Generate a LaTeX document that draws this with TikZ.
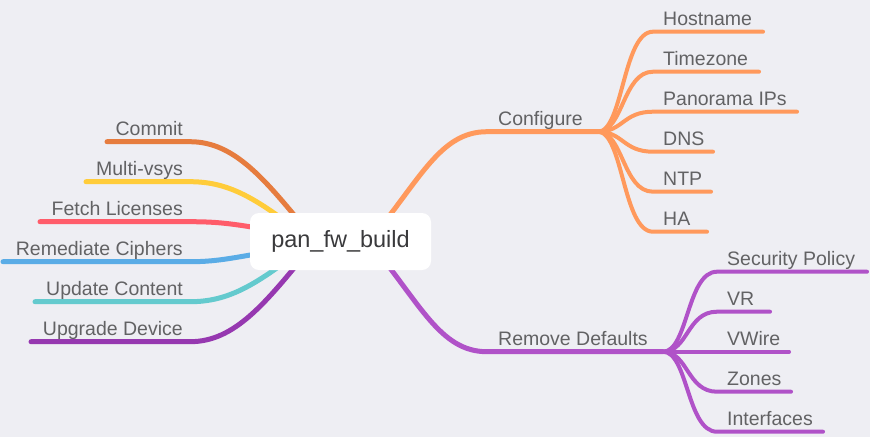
\documentclass[tikz,border=0pt]{standalone}
\usepackage{fontspec}
\setmainfont{Liberation Sans}
\usetikzlibrary{calc,positioning}
\definecolor{bg}{RGB}{238,238,243}
\definecolor{txt}{RGB}{98,98,100}
\definecolor{rtxt}{RGB}{58,58,60}
\definecolor{cfgc}{RGB}{255,153,92}
\definecolor{rmvc}{RGB}{176,82,200}
\definecolor{commitc}{RGB}{230,124,62}
\definecolor{vsysc}{RGB}{255,204,58}
\definecolor{licc}{RGB}{255,92,106}
\definecolor{ciphc}{RGB}{90,172,230}
\definecolor{contc}{RGB}{100,202,206}
\definecolor{upgc}{RGB}{150,56,176}
\begin{document}
\begin{tikzpicture}[x=1pt,y=-1pt,line cap=round,
		lbl/.style={inner sep=0pt,text=txt,font=\fontsize{19.5}{20}\selectfont},
		main/.style={line width=5pt},
		sub/.style={line width=4pt},
		rootbox/.style={fill=white,rounded corners=9pt,minimum width=181pt,minimum height=57pt,text=rtxt,font=\fontsize{23.5}{24}\selectfont}]
		\fill[bg] (0,0) rectangle (870,437);
		\coordinate (root) at (340.5,241.5);
		\path
			(107,141.7) coordinate (commit-s) (190,141.7) coordinate (commit-e)
			(86,181.7) coordinate (vsys-s) (190,181.7) coordinate (vsys-e)
			(40,221.7) coordinate (lic-s) (190,221.7) coordinate (lic-e)
			(3,261.7) coordinate (ciph-s) (190,261.7) coordinate (ciph-e)
			(35,301.7) coordinate (cont-s) (190,301.7) coordinate (cont-e)
			(31,341.7) coordinate (upg-s) (190,341.7) coordinate (upg-e)
			(487,131.7) coordinate (cfg-s) (598,131.7) coordinate (cfg-e)
			(487,351.7) coordinate (rmv-s) (663,351.7) coordinate (rmv-e)
			(653,31.7) coordinate (host-s) (763,31.7) coordinate (host-e)
			(653,71.7) coordinate (tz-s) (759,71.7) coordinate (tz-e)
			(653,111.7) coordinate (pano-s) (797,111.7) coordinate (pano-e)
			(653,151.7) coordinate (dns-s) (713,151.7) coordinate (dns-e)
			(653,191.7) coordinate (ntp-s) (711,191.7) coordinate (ntp-e)
			(653,231.7) coordinate (ha-s) (707,231.7) coordinate (ha-e)
			(717,271.7) coordinate (secpol-s) (867,271.7) coordinate (secpol-e)
			(717,311.7) coordinate (vr-s) (770,311.7) coordinate (vr-e)
			(717,351.7) coordinate (vwire-s) (789,351.7) coordinate (vwire-e)
			(717,391.7) coordinate (zones-s) (791,391.7) coordinate (zones-e)
			(717,431.7) coordinate (intf-s) (823,431.7) coordinate (intf-e)
			;
		\draw[main,commitc] (commit-s) -- (commit-e) .. controls +(45,0) and +(-45,-55) .. ($(root)+(-30,-6.5)$);
		\draw[main,vsysc] (vsys-s) -- (vsys-e) .. controls +(35,0) and +(-40,-30) .. ($(root)+(-50,-16.5)$);
		\draw[main,licc] (lic-s) -- (lic-e) .. controls +(30,0) and +(-45,-8) .. ($(root)+(-60,-9.5)$);
		\draw[main,ciphc] (ciph-s) -- (ciph-e) .. controls +(30,0) and +(-45,7) .. ($(root)+(-60,8.5)$);
		\draw[main,contc] (cont-s) -- (cont-e) .. controls +(35,0) and +(-40,30) .. ($(root)+(-50,16.5)$);
		\draw[main,upgc] (upg-s) -- (upg-e) .. controls +(45,0) and +(-45,55) .. ($(root)+(-30,6.5)$);
		\draw[main,cfgc] ($(root)+(30,-2)$) .. controls +(50,-60) and +(-47,0) .. (cfg-s) -- (cfg-e);
		\draw[main,rmvc] ($(root)+(30,2)$) .. controls +(50,60) and +(-47,0) .. (rmv-s) -- (rmv-e);
		\draw[sub,cfgc] (cfg-e) .. controls +(25,0) and +(-30,0) .. (host-s) -- (host-e);
		\draw[sub,cfgc] (cfg-e) .. controls +(25,0) and +(-30,0) .. (tz-s) -- (tz-e);
		\draw[sub,cfgc] (cfg-e) .. controls +(25,0) and +(-30,0) .. (pano-s) -- (pano-e);
		\draw[sub,cfgc] (cfg-e) .. controls +(25,0) and +(-30,0) .. (dns-s) -- (dns-e);
		\draw[sub,cfgc] (cfg-e) .. controls +(25,0) and +(-30,0) .. (ntp-s) -- (ntp-e);
		\draw[sub,cfgc] (cfg-e) .. controls +(25,0) and +(-30,0) .. (ha-s) -- (ha-e);
		\draw[sub,rmvc] (rmv-e) .. controls +(25,0) and +(-30,0) .. (secpol-s) -- (secpol-e);
		\draw[sub,rmvc] (rmv-e) .. controls +(25,0) and +(-30,0) .. (vr-s) -- (vr-e);
		\draw[sub,rmvc] (rmv-e) -- (vwire-s) -- (vwire-e);
		\draw[sub,rmvc] (rmv-e) .. controls +(25,0) and +(-30,0) .. (zones-s) -- (zones-e);
		\draw[sub,rmvc] (rmv-e) .. controls +(25,0) and +(-30,0) .. (intf-s) -- (intf-e);
		\node[lbl,anchor=base east] (commit) at ([shift={(-7,-6.7)}]commit-e) {Commit};
		\node[lbl,anchor=base east] (vsys) at ([shift={(-7,-6.7)}]vsys-e) {Multi-vsys};
		\node[lbl,anchor=base east] (lic) at ([shift={(-7,-6.7)}]lic-e) {Fetch Licenses};
		\node[lbl,anchor=base east] (ciph) at ([shift={(-7,-6.7)}]ciph-e) {Remediate Ciphers};
		\node[lbl,anchor=base east] (cont) at ([shift={(-7,-6.7)}]cont-e) {Update Content};
		\node[lbl,anchor=base east] (upg) at ([shift={(-7,-6.7)}]upg-e) {Upgrade Device};
		\node[lbl,anchor=base west] (cfg) at ([shift={(11,-6.7)}]cfg-s) {Configure};
		\node[lbl,anchor=base west] (rmv) at ([shift={(11,-6.7)}]rmv-s) {Remove Defaults};
		\node[lbl,anchor=base west] (host) at ([shift={(10,-6.7)}]host-s) {Hostname};
		\node[lbl,anchor=base west] (tz) at ([shift={(10,-6.7)}]tz-s) {Timezone};
		\node[lbl,anchor=base west] (pano) at ([shift={(10,-6.7)}]pano-s) {Panorama IPs};
		\node[lbl,anchor=base west] (dns) at ([shift={(10,-6.7)}]dns-s) {DNS};
		\node[lbl,anchor=base west] (ntp) at ([shift={(10,-6.7)}]ntp-s) {NTP};
		\node[lbl,anchor=base west] (ha) at ([shift={(10,-6.7)}]ha-s) {HA};
		\node[lbl,anchor=base west] (secpol) at ([shift={(10,-6.7)}]secpol-s) {Security Policy};
		\node[lbl,anchor=base west] (vr) at ([shift={(10,-6.7)}]vr-s) {VR};
		\node[lbl,anchor=base west] (vwire) at ([shift={(10,-6.7)}]vwire-s) {VWire};
		\node[lbl,anchor=base west] (zones) at ([shift={(10,-6.7)}]zones-s) {Zones};
		\node[lbl,anchor=base west] (intf) at ([shift={(10,-6.7)}]intf-s) {Interfaces};
		\node[rootbox] (build) at (root) {pan\_fw\_build};
	\end{tikzpicture}
\end{document}
